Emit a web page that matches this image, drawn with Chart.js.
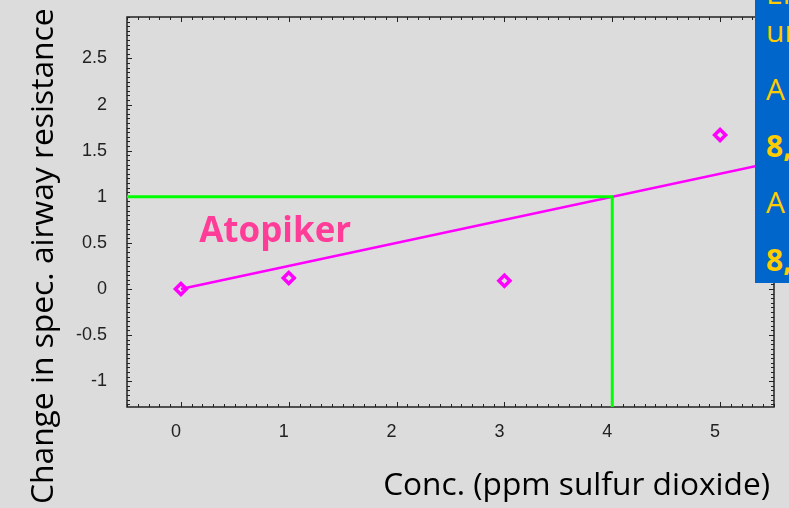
<!DOCTYPE html>
<html>
<head>
<meta charset="utf-8">
<script src="https://cdn.jsdelivr.net/npm/chart.js@4/dist/chart.umd.min.js"></script>
<style>
  html, body { margin: 0; padding: 0; background: #dcdcdc; overflow: hidden; }
  #wrap { position: relative; width: 789px; height: 508px; }
  #chart { position: absolute; left: 0; top: 0; }
  #note { position: absolute; left: 755px; top: 0; width: 34px; height: 283px; background: #0066cc; overflow: hidden; }
  #note span { position: absolute; left: 11px; white-space: nowrap; color: #ffcc00;
               font-family: "Comic Sans MS", "Open Sans", sans-serif; font-size: 30px; line-height: 30px; }
  #note span.b { font-weight: bold; }
</style>
</head>
<body>
<div id="wrap">
  <canvas id="chart" width="789" height="508"></canvas>
  <div id="note">
    <span style="top:-22px">Ei</span>
    <span style="top:16px">un</span>
    <span style="top:74px">A</span>
    <span class="b" style="top:131px">8,</span>
    <span style="top:187px">A</span>
    <span class="b" style="top:245px">8,</span>
  </div>
</div>
<script>
// Measured airway response per SO2 concentration
const concentrations = [0, 1, 3, 5];
const resistanceChange = [0, 0.12, 0.09, 1.67];

// Fitted response line (through origin)
const fitConc = [0, 5.5];
const fitChange = [0, 1.375];

// Guide marking the concentration giving a change of 1
const guideConc = [-0.5, 4, 4];
const guideChange = [1, 1, -1.28];

// Axis ranges and labelled ticks
const xRange = [-0.5, 5.5];
const yRange = [-1.28, 2.95];
const xTicks = [0, 1, 2, 3, 4, 5];
const yTicks = [-1, -0.5, 0, 0.5, 1, 1.5, 2, 2.5];

const xTitle = 'Conc. (ppm sulfur dioxide)';
const yTitle = 'Change in spec. airway resistance';
const seriesLabel = 'Atopiker';

const handFont = '"Comic Sans MS", "Open Sans", sans-serif';
const tickFont = { family: '"Liberation Sans", Arial, sans-serif', size: 18 };
const zip = (xs, ys) => xs.map((v, i) => ({ x: v, y: ys[i] }));

// Frame with inward-pointing major and minor ticks on all four sides
const frameTicks = {
  id: 'frameTicks',
  beforeDatasetsDraw(chart) {
    const { ctx, chartArea: a, scales: { x, y } } = chart;
    ctx.save();
    ctx.strokeStyle = '#222';
    ctx.lineWidth = 1;
    ctx.beginPath();
    const xStep = 0.1;
    for (let v = Math.ceil(x.min / xStep - 1e-6) * xStep; v <= x.max + 1e-9; v += xStep) {
      const major = Math.abs(v - Math.round(v)) < 1e-6;
      const len = major ? 5 : 3;
      const px = Math.round(x.getPixelForValue(v)) + 0.5;
      ctx.moveTo(px, a.bottom); ctx.lineTo(px, a.bottom - len);
      ctx.moveTo(px, a.top); ctx.lineTo(px, a.top + len);
    }
    const yStep = 0.05;
    for (let v = Math.ceil(y.min / yStep - 1e-6) * yStep; v <= y.max + 1e-9; v += yStep) {
      const major = Math.abs(v * 2 - Math.round(v * 2)) < 1e-6;
      const len = major ? 5 : 3;
      const py = Math.round(y.getPixelForValue(v)) + 0.5;
      ctx.moveTo(a.left, py); ctx.lineTo(a.left + len, py);
      ctx.moveTo(a.right, py); ctx.lineTo(a.right - len, py);
    }
    ctx.stroke();
    ctx.lineWidth = 1.5;
    ctx.strokeRect(a.left, a.top, a.right - a.left, a.bottom - a.top);
    ctx.restore();
  }
};

// Font size that makes a text run span a given width
function fitSize(ctx, text, weight, width) {
  ctx.font = weight + ' 100px ' + handFont;
  return 100 * width / ctx.measureText(text).width;
}

// Axis titles and the series label
const titles = {
  id: 'titles',
  afterDraw(chart) {
    const { ctx, scales: { x, y } } = chart;
    ctx.save();
    ctx.fillStyle = '#000';
    ctx.textBaseline = 'alphabetic';

    let s = fitSize(ctx, xTitle, 'normal', 387);
    ctx.font = 'normal ' + s + 'px ' + handFont;
    ctx.textAlign = 'right';
    ctx.fillText(xTitle, 770, 495);

    s = fitSize(ctx, yTitle, 'normal', 496);
    ctx.font = 'normal ' + s + 'px ' + handFont;
    ctx.textAlign = 'left';
    ctx.save();
    ctx.translate(53, 504);
    ctx.rotate(-Math.PI / 2);
    ctx.fillText(yTitle, 0, 0);
    ctx.restore();

    s = fitSize(ctx, seriesLabel, 'bold', 152);
    ctx.font = 'bold ' + s + 'px ' + handFont;
    ctx.fillStyle = '#ff3d98';
    ctx.textAlign = 'left';
    ctx.fillText(seriesLabel, x.getPixelForValue(0.17), y.getPixelForValue(0.51));
    ctx.restore();
  }
};

function build() {
  new Chart(document.getElementById('chart'), {
    type: 'scatter',
    data: {
      datasets: [
        {
          type: 'line',
          data: zip(guideConc, guideChange),
          borderColor: '#00ff00',
          borderWidth: 3,
          pointRadius: 0,
          fill: false,
          tension: 0
        },
        {
          type: 'line',
          data: zip(fitConc, fitChange),
          borderColor: '#ff00ff',
          borderWidth: 2.5,
          pointRadius: 0,
          fill: false,
          tension: 0
        },
        {
          data: zip(concentrations, resistanceChange),
          pointStyle: 'rectRot',
          pointRadius: 5.5,
          borderWidth: 3.5,
          borderColor: '#ff00ff',
          backgroundColor: 'rgba(0,0,0,0)'
        }
      ]
    },
    options: {
      responsive: false,
      devicePixelRatio: 1,
      animation: false,
      layout: { padding: { left: 0, top: 17, right: 15, bottom: 0 } },
      plugins: { legend: { display: false }, tooltip: { enabled: false } },
      scales: {
        x: {
          type: 'linear',
          min: xRange[0],
          max: xRange[1],
          grid: { display: false, drawTicks: false },
          border: { display: false },
          afterBuildTicks: (sc) => { sc.ticks = xTicks.map(v => ({ value: v })); },
          afterFit: (sc) => { sc.height = 101; sc.paddingLeft = 0; sc.paddingRight = 0; },
          ticks: {
            autoSkip: false,
            maxRotation: 0,
            padding: 14,
            labelOffset: -5,
            color: '#222',
            font: tickFont,
            callback: (v) => String(v)
          }
        },
        y: {
          type: 'linear',
          min: yRange[0],
          max: yRange[1],
          grid: { display: false, drawTicks: false },
          border: { display: false },
          afterBuildTicks: (sc) => { sc.ticks = yTicks.map(v => ({ value: v })); },
          afterFit: (sc) => { sc.width = 127; sc.paddingTop = 0; sc.paddingBottom = 0; },
          ticks: {
            autoSkip: false,
            padding: 20,
            color: '#222',
            font: tickFont,
            callback: (v) => String(v)
          }
        }
      }
    },
    plugins: [frameTicks, titles]
  });
}

Promise.all([
  document.fonts.load('30px "Open Sans"'),
  document.fonts.load('bold 30px "Open Sans"'),
  document.fonts.load('18px "Liberation Sans"')
]).then(build, build);
</script>
</body>
</html>
